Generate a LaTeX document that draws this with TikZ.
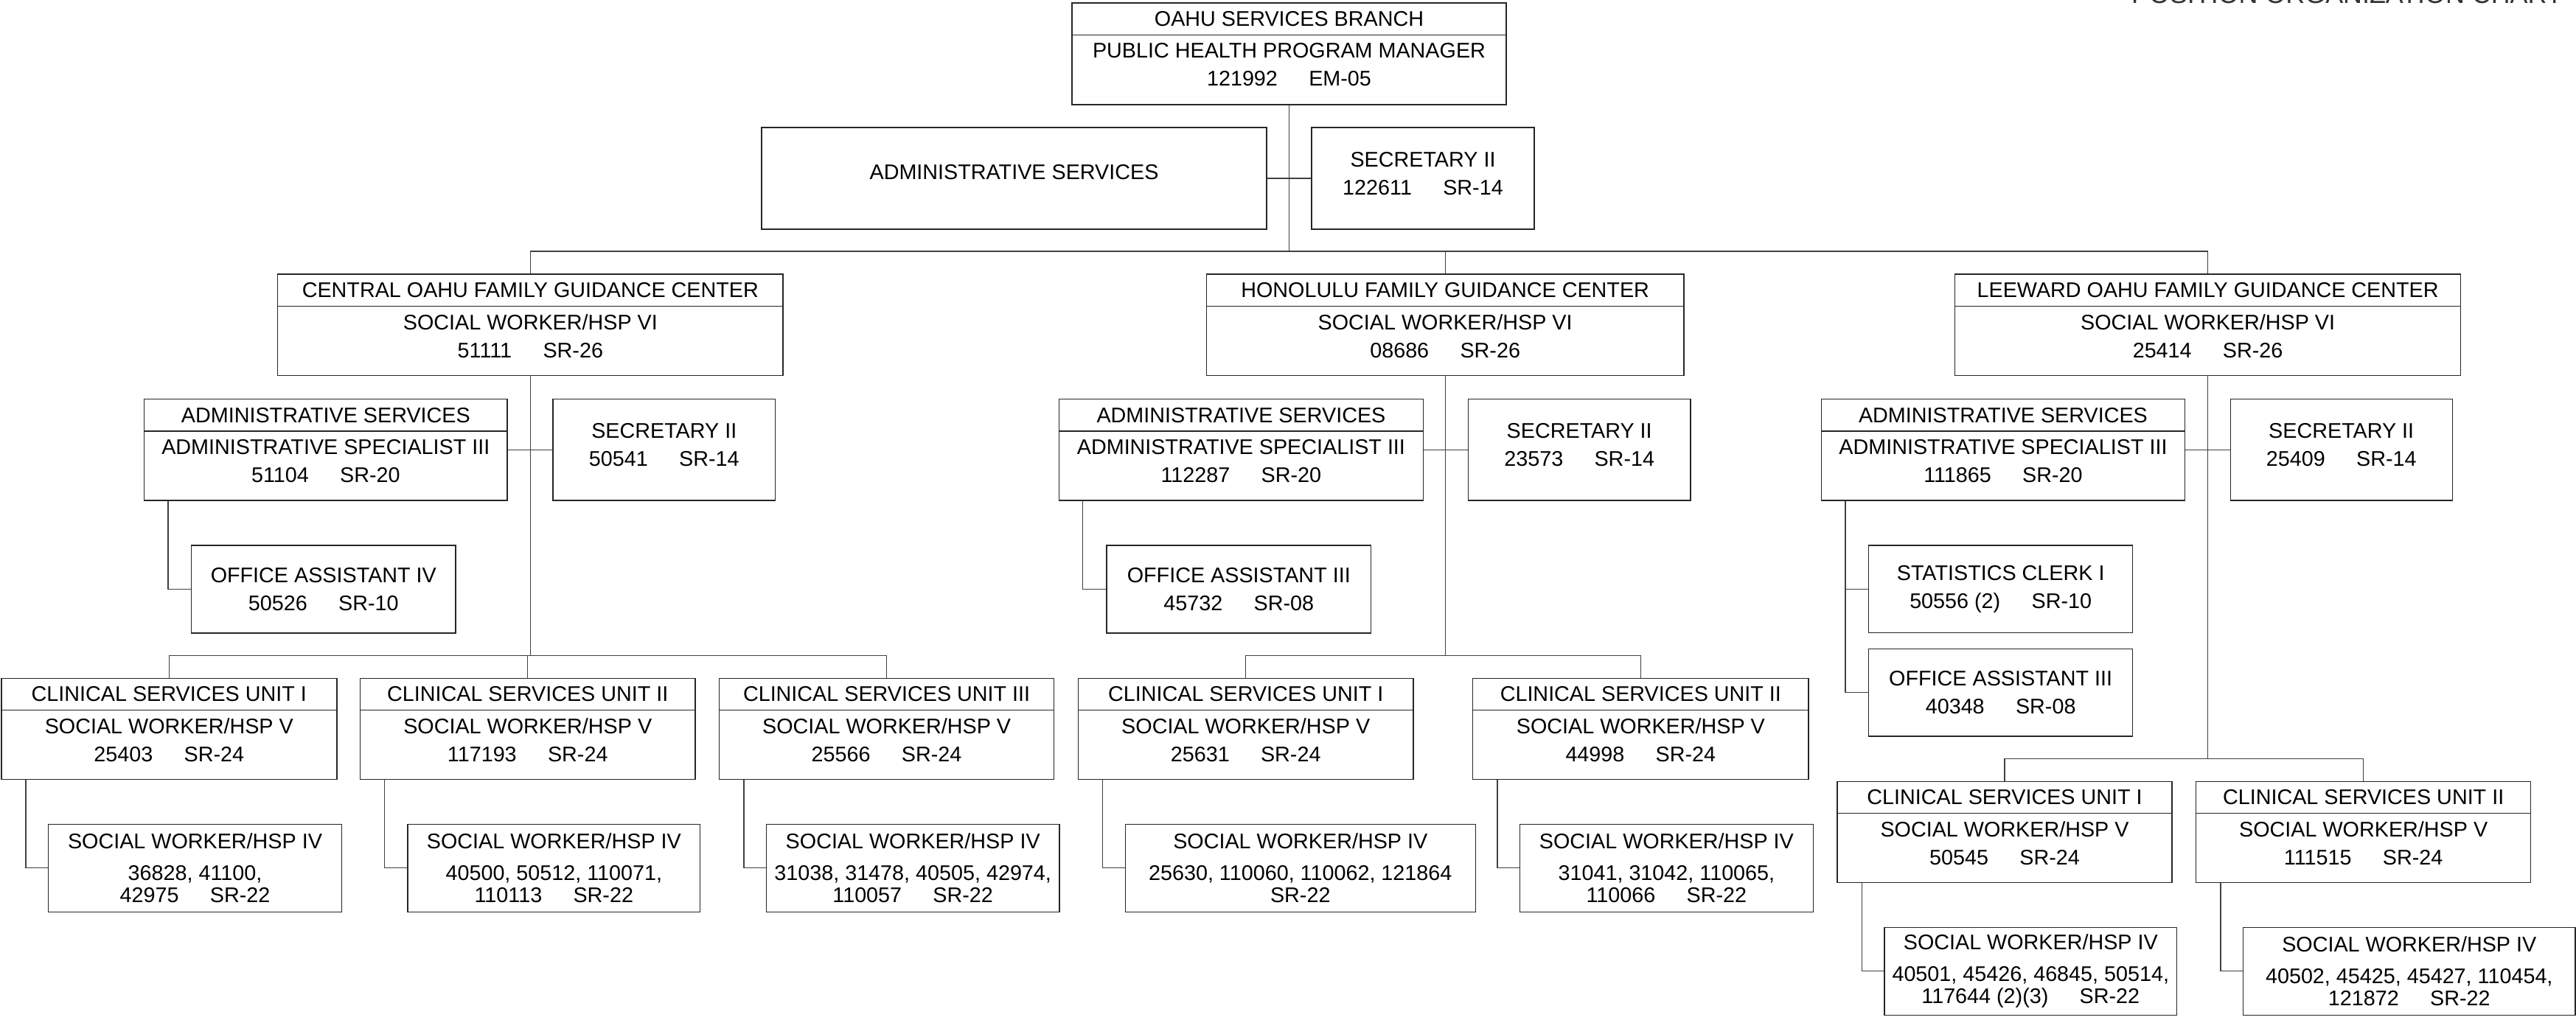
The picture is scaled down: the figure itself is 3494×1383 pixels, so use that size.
\documentclass[tikz,border=0pt]{standalone}
\usepackage{fontspec}
\setmainfont{Liberation Sans}
\usetikzlibrary{calc}
\newcommand\gp{\hspace{19pt}}
\begin{document}
\begin{tikzpicture}[x=0.4488pt, y=-0.4488pt,
  font=\fontsize{12.9}{17.2}\selectfont,
  box/.style={draw=black!85, line width=0.65pt, inner sep=0pt, align=center},
  body/.style={box, text depth=6pt},
  sec/.style={box, text depth=6pt},
  sw/.style={box},
  pos/.style n args={4}{minimum width={(#3-#1)*0.4488pt}, minimum height={(#4-#2)*0.4488pt}, at={({(#1+#3)/2},{(#2+#4)/2})}},
  conn/.style={draw=black!75, line width=0.6pt}]
\useasboundingbox (0,0) rectangle (3494,1383);

% title
\node[anchor=base west, font=\fontsize{16.1}{18}\selectfont, text=black!80, inner sep=0pt] (title) at (2890.7,5) {POSITION ORGANIZATION CHART};

% top
\node[box, pos={1454}{4}{2043}{47.7}] (tophd) {OAHU SERVICES BRANCH};
\node[body, text depth=6.6pt, pos={1454}{47.7}{2043}{142}] (top) {PUBLIC HEALTH PROGRAM MANAGER\\121992\gp EM-05};
\node[box, text depth=8pt, pos={1033}{173}{1718}{311}] (adm) {ADMINISTRATIVE SERVICES};
\node[sec, pos={1779}{173}{2081}{311}] (sec) {SECRETARY II\\122611\gp SR-14};

% centers
\node[box, pos={376.7}{372}{1062}{415.6}] (centhd) {CENTRAL OAHU FAMILY GUIDANCE CENTER};
\node[body, pos={376.7}{415.6}{1062}{509.5}] (cent) {SOCIAL WORKER/HSP VI\\51111\gp SR-26};
\node[box, pos={1636.4}{372}{2283.9}{415.6}] (honhd) {HONOLULU FAMILY GUIDANCE CENTER};
\node[body, pos={1636.4}{415.6}{2283.9}{509.5}] (hon) {SOCIAL WORKER/HSP VI\\08686\gp SR-26};
\node[box, pos={2651.7}{372}{3337.5}{415.6}] (leewhd) {LEEWARD OAHU FAMILY GUIDANCE CENTER};
\node[body, pos={2651.7}{415.6}{3337.5}{509.5}] (leew) {SOCIAL WORKER/HSP VI\\25414\gp SR-26};

% admin / secretary rows
\node[box, pos={195.7}{541.7}{688}{585}] (cadmhd) {ADMINISTRATIVE SERVICES};
\node[body, pos={195.7}{585}{688}{679}] (cadm) {ADMINISTRATIVE SPECIALIST III\\51104\gp SR-20};
\node[sec, pos={750}{541.7}{1051.5}{679}] (csec) {SECRETARY II\\50541\gp SR-14};
\node[box, pos={1436.5}{541.7}{1930.3}{585}] (hadmhd) {ADMINISTRATIVE SERVICES};
\node[body, pos={1436.5}{585}{1930.3}{679}] (hadm) {ADMINISTRATIVE SPECIALIST III\\112287\gp SR-20};
\node[sec, pos={1991.4}{541.7}{2293}{679}] (hsec) {SECRETARY II\\23573\gp SR-14};
\node[box, pos={2470.6}{541.7}{2963.3}{585}] (ladmhd) {ADMINISTRATIVE SERVICES};
\node[body, pos={2470.6}{585}{2963.3}{679}] (ladm) {ADMINISTRATIVE SPECIALIST III\\111865\gp SR-20};
\node[sec, pos={3025.2}{541.7}{3326.2}{679}] (lsec) {SECRETARY II\\25409\gp SR-14};

% clerical
\node[box, pos={259.6}{740}{618}{859}] (coa) {OFFICE ASSISTANT IV\\50526\gp SR-10};
\node[box, pos={1501}{740}{1859.5}{859}] (hoa) {OFFICE ASSISTANT III\\45732\gp SR-08};
\node[box, pos={2534.6}{740}{2892.7}{858.7}] (lstat) {STATISTICS CLERK I\\50556 (2)\gp SR-10};
\node[box, pos={2534.6}{880.3}{2892.7}{999}] (loa) {OFFICE ASSISTANT III\\40348\gp SR-08};

% clinical units
\node[box, pos={1.8}{920.3}{456.8}{963.7}] (c1hd) {CLINICAL SERVICES UNIT I};
\node[body, pos={1.8}{963.7}{456.8}{1057.7}] (c1) {SOCIAL WORKER/HSP V\\25403\gp SR-24};
\node[box, pos={488.3}{920.3}{943.2}{963.7}] (c2hd) {CLINICAL SERVICES UNIT II};
\node[body, pos={488.3}{963.7}{943.2}{1057.7}] (c2) {SOCIAL WORKER/HSP V\\117193\gp SR-24};
\node[box, pos={975.6}{920.3}{1429.6}{963.7}] (c3hd) {CLINICAL SERVICES UNIT III};
\node[body, pos={975.6}{963.7}{1429.6}{1057.7}] (c3) {SOCIAL WORKER/HSP V\\25566\gp SR-24};
\node[box, pos={1462.4}{920.3}{1917}{963.7}] (h1hd) {CLINICAL SERVICES UNIT I};
\node[body, pos={1462.4}{963.7}{1917}{1057.7}] (h1) {SOCIAL WORKER/HSP V\\25631\gp SR-24};
\node[box, pos={1997.7}{920.3}{2453}{963.7}] (h2hd) {CLINICAL SERVICES UNIT II};
\node[body, pos={1997.7}{963.7}{2453}{1057.7}] (h2) {SOCIAL WORKER/HSP V\\44998\gp SR-24};
\node[box, pos={2492}{1060.3}{2946}{1103.7}] (l1hd) {CLINICAL SERVICES UNIT I};
\node[body, pos={2492}{1103.7}{2946}{1197.3}] (l1) {SOCIAL WORKER/HSP V\\50545\gp SR-24};
\node[box, pos={2978.6}{1060.3}{3432.7}{1103.7}] (l2hd) {CLINICAL SERVICES UNIT II};
\node[body, pos={2978.6}{1103.7}{3432.7}{1197.3}] (l2) {SOCIAL WORKER/HSP V\\111515\gp SR-24};

% social worker IV
\node[sw, pos={65.7}{1118.3}{463.3}{1237.3}] (c1sw) {SOCIAL WORKER/HSP IV\\[2pt]36828, 41100,\\[-3.7pt]42975\gp SR-22};
\node[sw, pos={553}{1118.3}{949.7}{1237.3}] (c2sw) {SOCIAL WORKER/HSP IV\\[2pt]40500, 50512, 110071,\\[-3.7pt]110113\gp SR-22};
\node[sw, pos={1039.4}{1118.3}{1437}{1237.3}] (c3sw) {SOCIAL WORKER/HSP IV\\[2pt]31038, 31478, 40505, 42974,\\[-3.7pt]110057\gp SR-22};
\node[sw, pos={1526.3}{1118.3}{2001.2}{1237.3}] (h1sw) {SOCIAL WORKER/HSP IV\\[2pt]25630, 110060, 110062, 121864\\[-3.7pt]SR-22};
\node[sw, pos={2061.5}{1118.3}{2459.3}{1237.3}] (h2sw) {SOCIAL WORKER/HSP IV\\[2pt]31041, 31042, 110065,\\[-3.7pt]110066\gp SR-22};
\node[sw, pos={2555.9}{1258.3}{2952.7}{1377.3}] (l1sw) {SOCIAL WORKER/HSP IV\\[2pt]40501, 45426, 46845, 50514,\\[-3.7pt]117644 (2)(3)\gp SR-22};
\node[sw, pos={3042.5}{1258.3}{3493}{1377.3}] (l2sw) {SOCIAL WORKER/HSP IV\\[2pt]40502, 45425, 45427, 110454,\\[-3.7pt]121872\gp SR-22};

% connectors: top level
\coordinate (busA) at (0,341);
\draw[conn] (top.south) -- (top.south |- busA);
\draw[conn] (adm.east) -- (sec.west);
\draw[conn] (centhd.north) -- (centhd.north |- busA) -- (leewhd.north |- busA) -- (leewhd.north);
\draw[conn] (honhd.north) -- (honhd.north |- busA);

% central
\coordinate (busC) at (0,889.3);
\draw[conn] (cadm.east |- csec.west) -- (csec.west);
\draw[conn] (cent.south) -- (cent.south |- busC);
\draw[conn] (c1hd.north) -- (c1hd.north |- busC) -- (c3hd.north |- busC) -- (c3hd.north);
\draw[conn] (c2hd.north) -- (c2hd.north |- busC);
\draw[conn] (coa.west) -| ($(cadm.south west)+(33,0)$);
\draw[conn] (c1sw.west) -| ($(c1.south west)+(34,0)$);
\draw[conn] (c2sw.west) -| ($(c2.south west)+(34,0)$);
\draw[conn] (c3sw.west) -| ($(c3.south west)+(34,0)$);

% honolulu
\draw[conn] (hadm.east |- hsec.west) -- (hsec.west);
\draw[conn] (hon.south) -- (hon.south |- busC);
\draw[conn] (h1hd.north) -- (h1hd.north |- busC) -- (h2hd.north |- busC) -- (h2hd.north);
\draw[conn] (hoa.west) -| ($(hadm.south west)+(33,0)$);
\draw[conn] (h1sw.west) -| ($(h1.south west)+(34,0)$);
\draw[conn] (h2sw.west) -| ($(h2.south west)+(34,0)$);

% leeward
\coordinate (busL) at (0,1029.3);
\draw[conn] (ladm.east |- lsec.west) -- (lsec.west);
\draw[conn] (leew.south) -- (leew.south |- busL);
\draw[conn] (l1hd.north) -- (l1hd.north |- busL) -- (l2hd.north |- busL) -- (l2hd.north);
\draw[conn] (lstat.west) -| ($(ladm.south west)+(33,0)$);
\draw[conn] (loa.west) -| ($(ladm.south west)+(33,0)$);
\draw[conn] (l1sw.west) -| ($(l1.south west)+(34,0)$);
\draw[conn] (l2sw.west) -| ($(l2.south west)+(34,0)$);
\end{tikzpicture}
\end{document}
